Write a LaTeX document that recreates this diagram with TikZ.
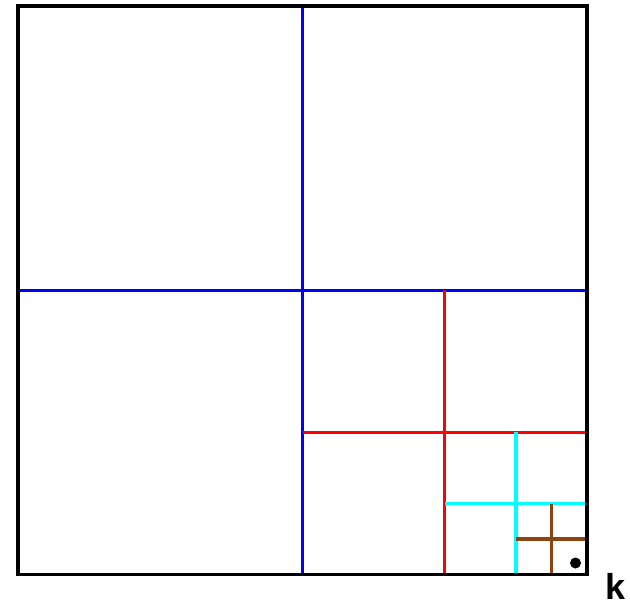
\documentclass[tikz,border=0pt]{standalone}
\usepackage{fontspec}
\setmainfont{Liberation Sans}
\definecolor{qblue}{RGB}{0,0,255}
\definecolor{qred}{RGB}{255,0,0}
\definecolor{qcyan}{RGB}{0,255,255}
\definecolor{qbrown}{RGB}{139,69,19}
\begin{document}
\begin{tikzpicture}[x=1pt,y=-1pt,
  border/.style={draw=black,line width=3.2pt},
  split/.style={line width=3.2pt},
  dotmark/.style={circle,fill=black,inner sep=0pt,minimum size=11pt},
  lbl/.style={font=\fontsize{36}{36}\selectfont\bfseries,inner sep=0pt}]
\useasboundingbox (0,0) rectangle (630,608);
% key coordinates
\coordinate (TL) at (18,6);
\coordinate (BR) at (587,574.5);
% blue level
\draw[split,qblue] (302.5,6) -- (302.5,574.5);
\draw[split,qblue] (18,290.25) -- (587,290.25);
% red level
\draw[split,qred] (444.75,290.25) -- (444.75,574.5);
\draw[split,qred] (302.5,432.4) -- (587,432.4);
% cyan level
\draw[split,qcyan] (515.9,432.4) -- (515.9,574.5);
\draw[split,qcyan] (444.75,503.5) -- (587,503.5);
% brown level
\draw[split,qbrown] (551.4,503.5) -- (551.4,574.5);
\draw[split,qbrown] (515.9,539) -- (587,539);
% outer square
\draw[border] (TL) rectangle (BR);
% dot
\node[dotmark] (dot) at (575.5,563) {};
% label
\node[lbl,anchor=base] (k) at (616,599) {k};
\end{tikzpicture}
\end{document}
